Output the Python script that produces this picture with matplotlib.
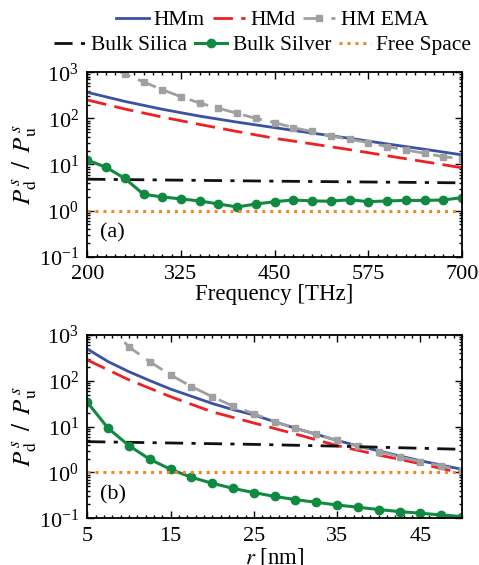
import numpy as np
import matplotlib
matplotlib.use("Agg")
import matplotlib.pyplot as plt
from matplotlib.ticker import LogLocator, MultipleLocator, NullFormatter

plt.rcParams['font.family'] = ['Liberation Serif', 'DejaVu Serif']
plt.rcParams['mathtext.fontset'] = 'stix'

# ---------------- data: panel (a) ----------------
freq_line = [200, 250, 300, 350, 400, 450, 500, 550, 600, 650, 700]
hmm_a = [368, 234, 158, 112, 83, 63, 48, 37, 28, 21.4, 16.2]
hmd_a = [251, 160, 107, 74, 52, 37, 28, 21, 15.5, 11.5, 8.5]
freq_pts = [200, 225, 250, 275, 300, 325, 350, 375, 400, 425, 450,
            475, 500, 525, 550, 575, 600, 625, 650, 675, 700]
ema_a = [2200, 1400, 920, 620, 420, 295, 215, 166, 129, 100, 81,
         63, 52, 41.5, 35, 30, 24.4, 20.7, 17.5, 14.8, 13.2]
silver_a = [12.5, 8.7, 5.0, 2.26, 1.98, 1.79, 1.62, 1.39, 1.20, 1.39, 1.56,
            1.70, 1.62, 1.60, 1.72, 1.56, 1.62, 1.66, 1.66, 1.70, 1.91]
freq_silica = [200, 450, 700]
silica_a = [4.8, 4.35, 4.0]
free_a = [1.0, 1.0]
freq_free = [200, 700]

# ---------------- data: panel (b) ----------------
r_pts = [5, 7.5, 10, 12.5, 15, 17.5, 20, 22.5, 25, 27.5, 30, 32.5,
         35, 37.5, 40, 42.5, 45, 47.5, 50]
hmm_b = [495, 262, 158, 101, 66, 46, 32, 23.5, 18, 12.8, 9.2, 6.8,
         5.0, 3.8, 2.95, 2.3, 1.8, 1.45, 1.17]
ema_b = [5600, 1700, 547, 262, 134, 75, 45, 28, 19.2, 12.8, 9.2, 6.8,
         5.0, 3.7, 2.85, 2.2, 1.72, 1.39, 1.1]
silver_b = [34, 9.2, 3.85, 1.94, 1.17, 0.785, 0.58, 0.45, 0.363, 0.30,
            0.255, 0.223, 0.195, 0.174, 0.155, 0.14, 0.129, 0.118, 0.109]
r_hmd = [5, 10, 15, 20, 25, 30, 35, 40, 45, 50]
hmd_b = [285, 105, 45, 21, 12.0, 6.9, 3.85, 2.4, 1.55, 0.97]
r_silica = [5, 15, 25, 35, 50]
silica_b = [4.7, 4.4, 4.1, 3.75, 3.2]
r_free = [5, 50]
free_b = [1.0, 1.0]

# ---------------- styles ----------------
C_BLUE = '#3a52a3'
C_RED = '#ee2024'
C_GRAY = '#a0a0a0'
C_BLACK = '#111111'
C_GREEN = '#0f8a40'
C_ORANGE = '#f0862a'

FS = 16
YLABEL = r'$P_{\rm d}^{\,s}\ \,/\ \,P_{\rm u}^{\,s}$'

fig = plt.figure(figsize=(4.79, 5.65), dpi=100)
axa = fig.add_axes([0.1823, 0.5457, 0.7822, 0.3263])
axb = fig.add_axes([0.1823, 0.0827, 0.7822, 0.3244])


def draw(ax, xl, hmm, xh, hmd, xp, ema, silver, xs, silica, xf, free):
    h1, = ax.plot(xl, hmm, color=C_BLUE, lw=2.0, label='HMm')
    h2, = ax.plot(xh, hmd, color=C_RED, lw=2.0, ls=(0, (7, 3)), label='HMd')
    h3, = ax.plot(xp, ema, color=C_GRAY, lw=2.0, ls=(0, (7, 3)), marker='s',
                  ms=3.8, label='HM EMA')
    h4, = ax.plot(xs, silica, color=C_BLACK, lw=2.0,
                  ls=(0, (6.5, 3, 1.5, 3)), label='Bulk Silica')
    h5, = ax.plot(xp, silver, color=C_GREEN, lw=2.2, marker='o', ms=6,
                  label='Bulk Silver')
    h6, = ax.plot(xf, free, color=C_ORANGE, lw=2.2, ls=(0, (1, 1.6)),
                  label='Free Space')
    ax.set_yscale('log')
    ax.set_ylim(0.1, 1000)
    ax.yaxis.set_major_locator(LogLocator(base=10, numticks=10))
    ax.yaxis.set_minor_locator(LogLocator(base=10, subs=np.arange(2, 10), numticks=20))
    ax.yaxis.set_minor_formatter(NullFormatter())
    ax.tick_params(which='both', direction='in', top=True, right=True,
                   labelsize=FS, width=1.0)
    ax.tick_params(axis='x', which='major', pad=6)
    ax.tick_params(axis='y', which='major', pad=6)
    ax.tick_params(which='major', length=5)
    ax.tick_params(which='minor', length=2.5)
    for s in ax.spines.values():
        s.set_linewidth(1.3)
    ax.set_ylabel(YLABEL, fontsize=18, labelpad=0)
    return [h1, h2, h3, h4, h5, h6]


handles = draw(axa, freq_line, hmm_a, freq_line, hmd_a, freq_pts, ema_a,
               silver_a, freq_silica, silica_a, freq_free, free_a)
axa.set_xlim(200, 700)
axa.set_xticks([200, 325, 450, 575, 700])
axa.xaxis.set_minor_locator(MultipleLocator(12.5))
axa.set_xlabel('Frequency [THz]', fontsize=16.5, labelpad=0)
axa.text(0.035, 0.13, '(a)', transform=axa.transAxes, fontsize=FS,
         ha='left', va='center')

draw(axb, r_pts, hmm_b, r_hmd, hmd_b, r_pts, ema_b, silver_b,
     r_silica, silica_b, r_free, free_b)
axb.set_xlim(5, 50)
axb.set_xticks([5, 15, 25, 35, 45])
axb.xaxis.set_minor_locator(MultipleLocator(1))
axb.set_xlabel(r'$r$ [nm]', fontsize=16.5, labelpad=0)
axb.text(0.035, 0.13, '(b)', transform=axb.transAxes, fontsize=FS,
         ha='left', va='center')

leg_kw = dict(frameon=False, fontsize=15.5, handlelength=1.5,
              handletextpad=0.25, columnspacing=0.35, borderpad=0,
              borderaxespad=0, ncol=3, loc='center')
leg1 = fig.legend(handles[:3], [h.get_label() for h in handles[:3]],
                  bbox_to_anchor=(0.568, 0.9646), **leg_kw)
leg2 = fig.legend(handles[3:], [h.get_label() for h in handles[3:]],
                  bbox_to_anchor=(0.548, 0.920), **leg_kw)

fig.savefig('out.png', dpi=100)
